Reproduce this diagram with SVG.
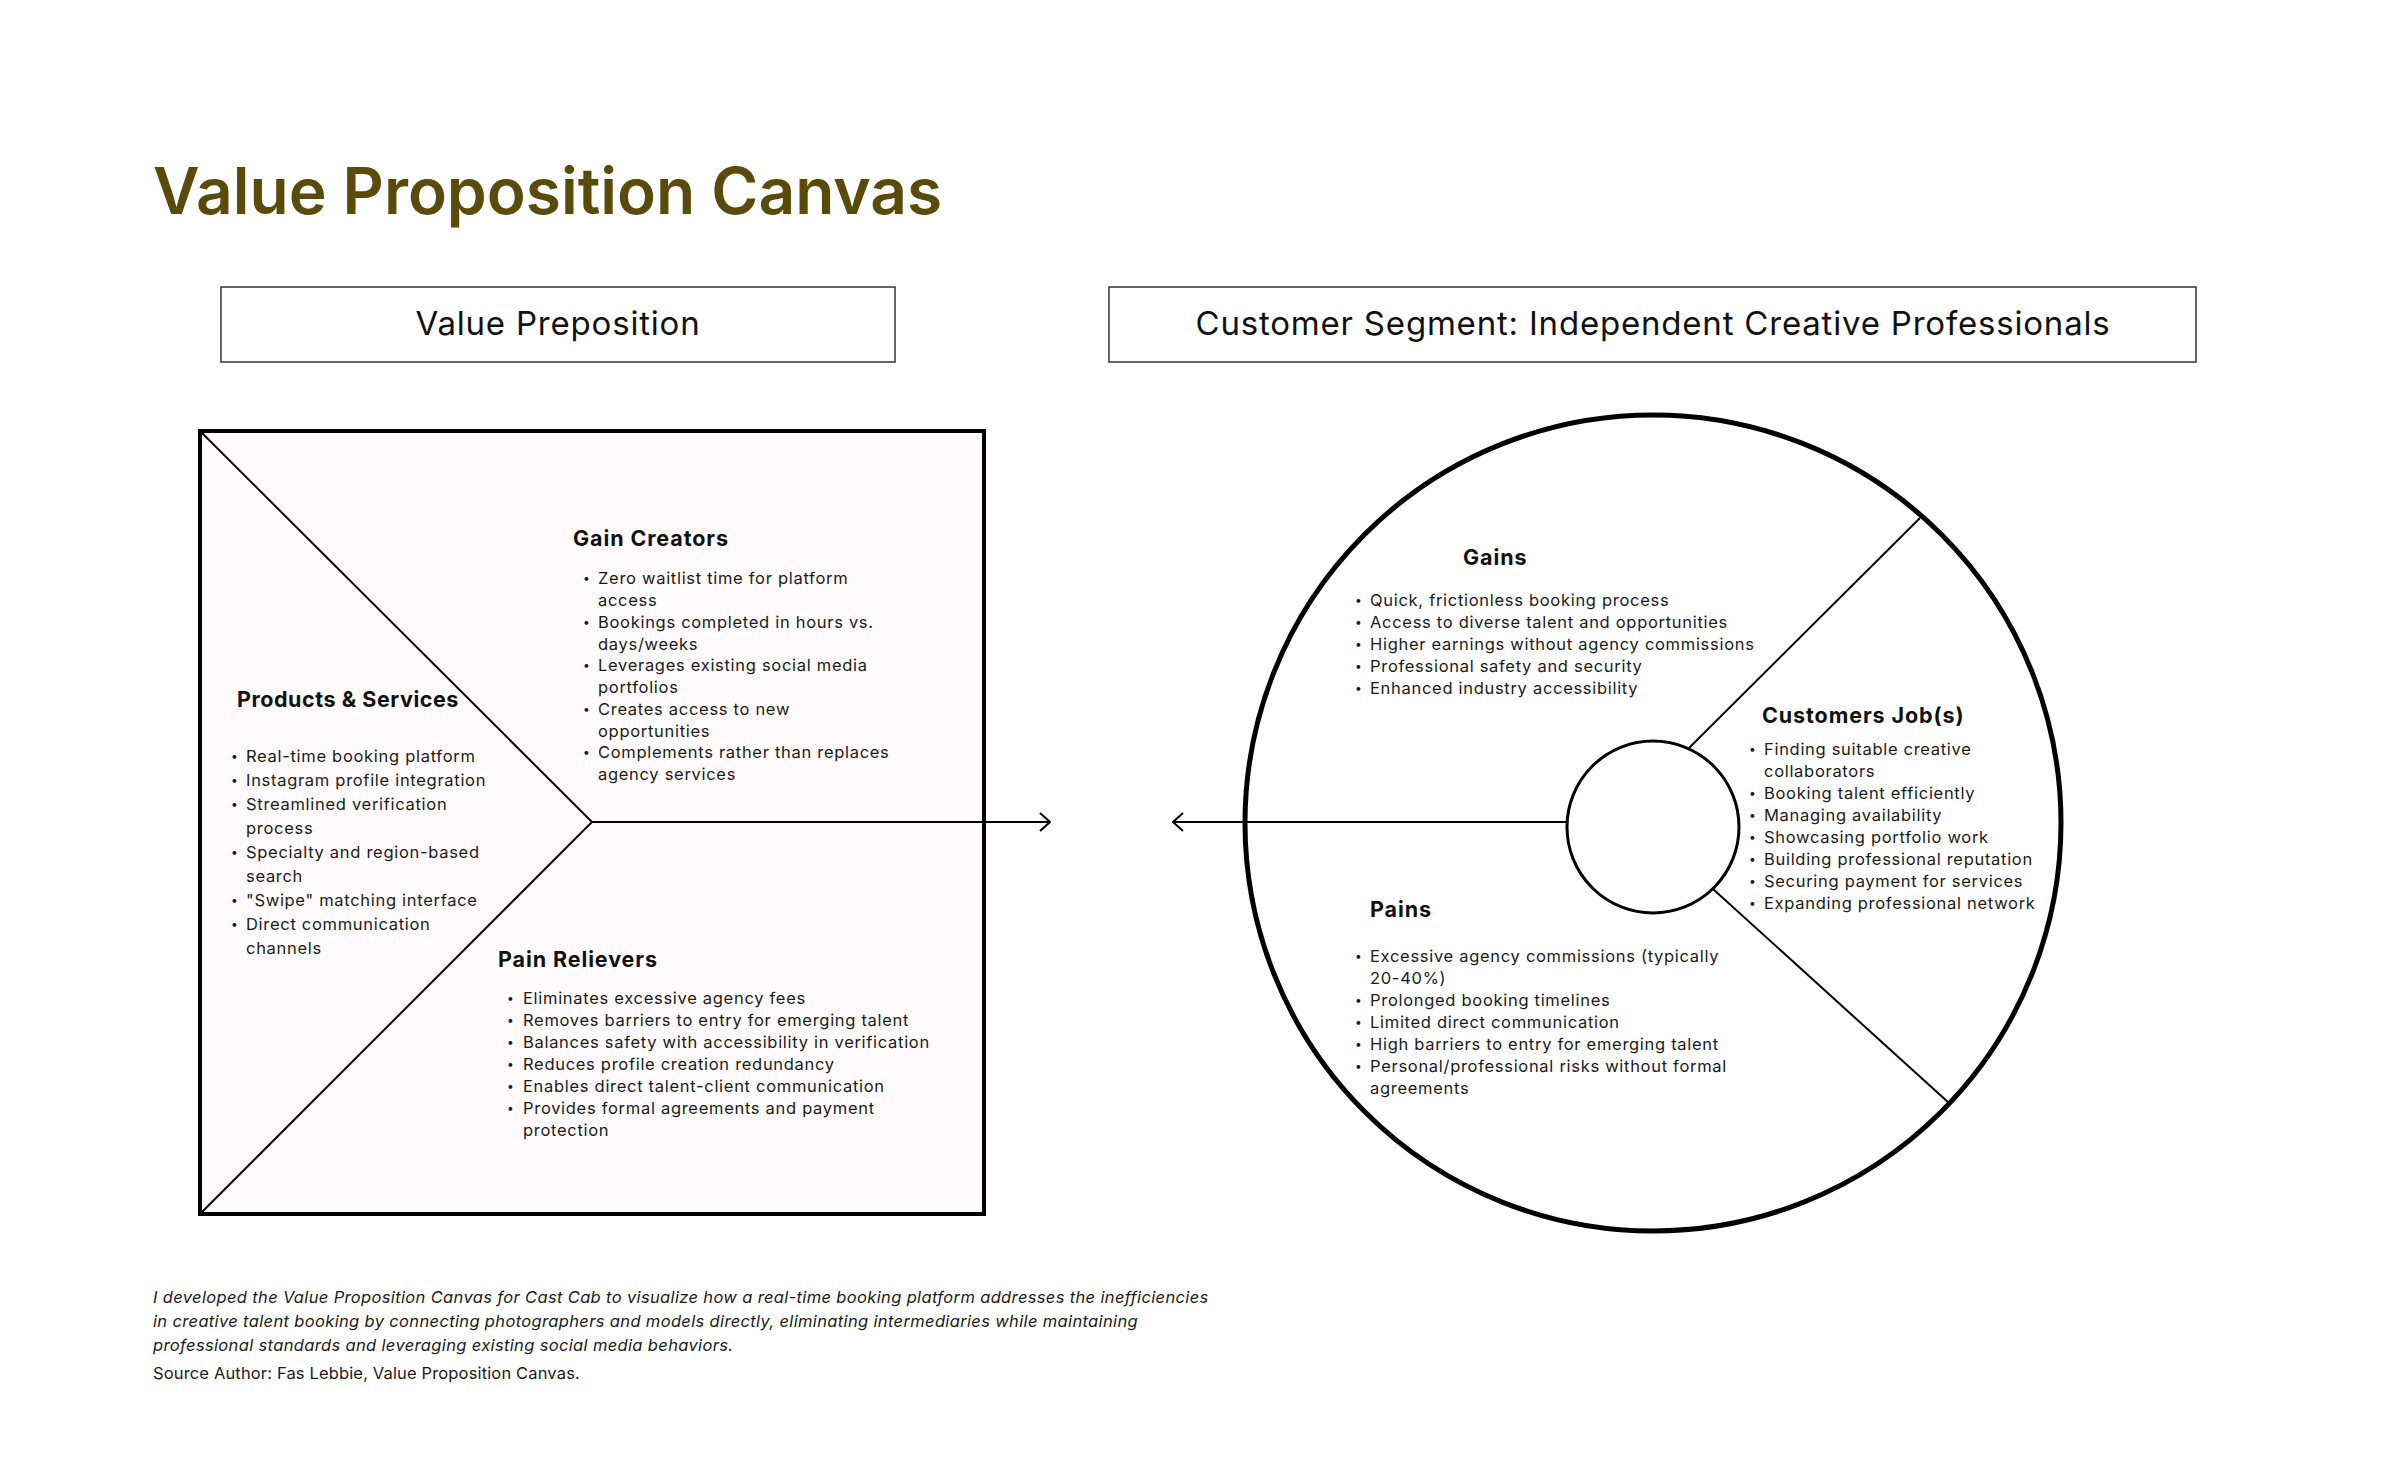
<svg xmlns="http://www.w3.org/2000/svg" width="2400" height="1464" viewBox="0 0 2400 1464">
<defs>
<style>
.t{font-family:Inter,"Liberation Sans",sans-serif;}
.title{font-size:64px;font-weight:600;fill:#5a4b0b;}
.hdr{font-size:33px;letter-spacing:0.8px;fill:#111;text-anchor:middle;}
.h{font-size:21.5px;font-weight:700;letter-spacing:0.9px;fill:#111;}
.b{font-size:16.5px;letter-spacing:0.7px;fill:#1a1a1a;}
.dot{font-size:12px;fill:#1a1a1a;}
.foot{font-size:16.5px;letter-spacing:0.35px;fill:#1a1a1a;}
.it{font-style:italic;}
.box{fill:#fff;stroke:#333;stroke-width:1.5;}
.thin{stroke:#000;stroke-width:2;fill:none;}
</style>
<marker id="arr" viewBox="0 0 12 20" refX="11" refY="10" markerWidth="12" markerHeight="20" markerUnits="userSpaceOnUse" orient="auto">
<path d="M1,1 L11,10 L1,19" fill="none" stroke="#000" stroke-width="2"/>
</marker>
</defs>
<rect width="2400" height="1464" fill="#fff"/>
<text class="t title" x="153" y="214">Value Proposition Canvas</text>

<g id="header-value">
<rect class="box" x="221" y="287" width="674" height="75"/>
<text class="t hdr" x="558" y="335">Value Preposition</text>
</g>
<g id="header-customer">
<rect class="box" x="1109" y="287" width="1087" height="75"/>
<text class="t hdr" x="1653" y="335">Customer Segment: Independent Creative Professionals</text>
</g>

<g id="value-square">
<rect x="200" y="431" width="784" height="783" fill="#fffbfc" stroke="#000" stroke-width="4"/>
<polyline class="thin" points="200,431 592,822 200,1214"/>
</g>

<g id="customer-circle">
<circle cx="1653" cy="823" r="408" fill="#fff" stroke="#000" stroke-width="5"/>
<line class="thin" x1="1689" y1="748" x2="1920" y2="518"/>
<line class="thin" x1="1713" y1="889" x2="1949" y2="1103"/>
<circle cx="1653" cy="827" r="86" fill="#fff" stroke="#000" stroke-width="3"/>
</g>

<g id="connectors">
<line class="thin" x1="592" y1="822" x2="1050" y2="822" marker-end="url(#arr)"/>
<line class="thin" x1="1567" y1="822" x2="1173" y2="822" marker-end="url(#arr)"/>
</g>

<g id="gain-creators" class="t">
<text class="h" x="573" y="546">Gain Creators</text>
<text class="dot" x="583" y="582">•</text>
<text class="b" x="598" y="584">Zero waitlist time for platform</text>
<text class="b" x="598" y="606">access</text>
<text class="dot" x="583" y="626">•</text>
<text class="b" x="598" y="628">Bookings completed in hours vs.</text>
<text class="b" x="598" y="650">days/weeks</text>
<text class="dot" x="583" y="669">•</text>
<text class="b" x="598" y="671">Leverages existing social media</text>
<text class="b" x="598" y="693">portfolios</text>
<text class="dot" x="583" y="713">•</text>
<text class="b" x="598" y="715">Creates access to new</text>
<text class="b" x="598" y="737">opportunities</text>
<text class="dot" x="583" y="756">•</text>
<text class="b" x="598" y="758">Complements rather than replaces</text>
<text class="b" x="598" y="780">agency services</text>
</g>

<g id="products-services" class="t">
<text class="h" x="237" y="707" style="letter-spacing:0.55px">Products &amp; Services</text>
<text class="dot" x="231" y="760">•</text>
<text class="b" x="246" y="762">Real-time booking platform</text>
<text class="dot" x="231" y="784">•</text>
<text class="b" x="246" y="786">Instagram profile integration</text>
<text class="dot" x="231" y="808">•</text>
<text class="b" x="246" y="810">Streamlined verification</text>
<text class="b" x="246" y="834">process</text>
<text class="dot" x="231" y="856">•</text>
<text class="b" x="246" y="858">Specialty and region-based</text>
<text class="b" x="246" y="882">search</text>
<text class="dot" x="231" y="904">•</text>
<text class="b" x="246" y="906">"Swipe" matching interface</text>
<text class="dot" x="231" y="928">•</text>
<text class="b" x="246" y="930">Direct communication</text>
<text class="b" x="246" y="954">channels</text>
</g>

<g id="pain-relievers" class="t">
<text class="h" x="498" y="967">Pain Relievers</text>
<text class="dot" x="507" y="1002">•</text>
<text class="b" x="523" y="1004">Eliminates excessive agency fees</text>
<text class="dot" x="507" y="1024">•</text>
<text class="b" x="523" y="1026">Removes barriers to entry for emerging talent</text>
<text class="dot" x="507" y="1046">•</text>
<text class="b" x="523" y="1048">Balances safety with accessibility in verification</text>
<text class="dot" x="507" y="1068">•</text>
<text class="b" x="523" y="1070">Reduces profile creation redundancy</text>
<text class="dot" x="507" y="1090">•</text>
<text class="b" x="523" y="1092">Enables direct talent-client communication</text>
<text class="dot" x="507" y="1112">•</text>
<text class="b" x="523" y="1114">Provides formal agreements and payment</text>
<text class="b" x="523" y="1136">protection</text>
</g>

<g id="gains" class="t">
<text class="h" x="1463" y="565">Gains</text>
<text class="dot" x="1355" y="604">•</text>
<text class="b" x="1370" y="606">Quick, frictionless booking process</text>
<text class="dot" x="1355" y="626">•</text>
<text class="b" x="1370" y="628">Access to diverse talent and opportunities</text>
<text class="dot" x="1355" y="648">•</text>
<text class="b" x="1370" y="650">Higher earnings without agency commissions</text>
<text class="dot" x="1355" y="670">•</text>
<text class="b" x="1370" y="672">Professional safety and security</text>
<text class="dot" x="1355" y="692">•</text>
<text class="b" x="1370" y="694">Enhanced industry accessibility</text>
</g>

<g id="customer-jobs" class="t">
<text class="h" x="1762" y="723">Customers Job(s)</text>
<text class="dot" x="1749" y="753">•</text>
<text class="b" x="1764" y="755">Finding suitable creative</text>
<text class="b" x="1764" y="777">collaborators</text>
<text class="dot" x="1749" y="797">•</text>
<text class="b" x="1764" y="799">Booking talent efficiently</text>
<text class="dot" x="1749" y="819">•</text>
<text class="b" x="1764" y="821">Managing availability</text>
<text class="dot" x="1749" y="841">•</text>
<text class="b" x="1764" y="843">Showcasing portfolio work</text>
<text class="dot" x="1749" y="863">•</text>
<text class="b" x="1764" y="865">Building professional reputation</text>
<text class="dot" x="1749" y="885">•</text>
<text class="b" x="1764" y="887">Securing payment for services</text>
<text class="dot" x="1749" y="907">•</text>
<text class="b" x="1764" y="909">Expanding professional network</text>
</g>

<g id="pains" class="t">
<text class="h" x="1370" y="917">Pains</text>
<text class="dot" x="1355" y="960">•</text>
<text class="b" x="1370" y="962">Excessive agency commissions (typically</text>
<text class="b" x="1370" y="984">20-40%)</text>
<text class="dot" x="1355" y="1004">•</text>
<text class="b" x="1370" y="1006">Prolonged booking timelines</text>
<text class="dot" x="1355" y="1026">•</text>
<text class="b" x="1370" y="1028">Limited direct communication</text>
<text class="dot" x="1355" y="1048">•</text>
<text class="b" x="1370" y="1050">High barriers to entry for emerging talent</text>
<text class="dot" x="1355" y="1070">•</text>
<text class="b" x="1370" y="1072">Personal/professional risks without formal</text>
<text class="b" x="1370" y="1094">agreements</text>
</g>

<g id="footer" class="t">
<text class="foot it" x="153" y="1303">I developed the Value Proposition Canvas for Cast Cab to visualize how a real-time booking platform addresses the inefficiencies</text>
<text class="foot it" x="153" y="1327">in creative talent booking by connecting photographers and models directly, eliminating intermediaries while maintaining</text>
<text class="foot it" x="153" y="1351">professional standards and leveraging existing social media behaviors.</text>
<text class="foot" x="153" y="1379" style="letter-spacing:0.15px">Source Author: Fas Lebbie, Value Proposition Canvas.</text>
</g>
</svg>
